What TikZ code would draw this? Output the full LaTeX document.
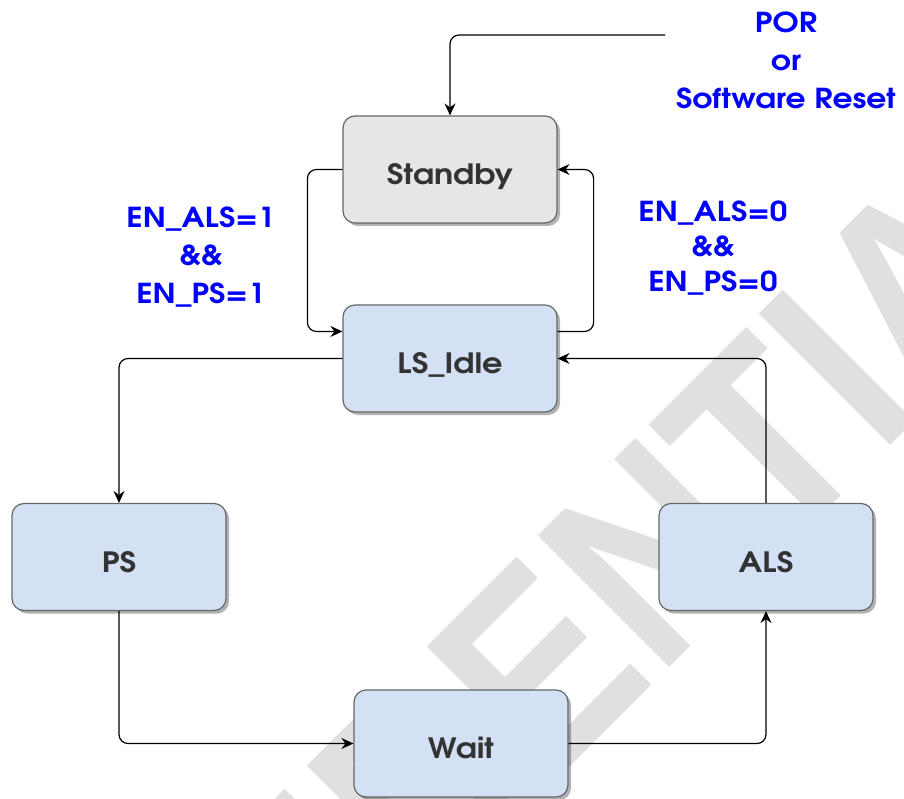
\documentclass[tikz,border=0pt]{standalone}
\usepackage{fontspec}
\usepackage{graphicx}
\setmainfont{texgyreadventor}[Extension=.otf, UprightFont=*-regular, BoldFont=*-bold, FakeStretch=1.14]
\newfontfamily\wmfont{Liberation Sans}
\usetikzlibrary{arrows.meta,shadows,calc}
\definecolor{boxblue}{HTML}{D4E1F5}
\definecolor{boxgray}{HTML}{E6E6E6}
\definecolor{boxline}{HTML}{666666}
\definecolor{txtdark}{HTML}{333333}
\definecolor{lblblue}{HTML}{0000FF}
\definecolor{wmgray}{HTML}{E0E0E0}
\begin{document}
\begin{tikzpicture}[x=1pt,y=-1pt,
  state/.style={draw=boxline, line width=1.2pt, rounded corners=12pt, minimum width=214pt, minimum height=107pt, inner sep=0pt, fill=boxblue, font=\bfseries\fontsize{28}{28}\selectfont, text=txtdark, text height=30.7pt, text depth=0pt, drop shadow={shadow xshift=3pt, shadow yshift=-3pt, opacity=0.3, fill=black}},
  cond/.style={align=center, text=lblblue, inner sep=0pt},
  conn/.style={draw=black, line width=1.2pt, rounded corners=9pt, -{Stealth[length=12pt,width=11pt,inset=4pt]}},
]
\useasboundingbox (0,0) rectangle (904,799);
\fill[white] (0,0) rectangle (904,799);
\begin{scope}
\clip (0,0) rectangle (904,799);
\node[rotate=45, anchor=base west, inner sep=0pt, text=wmgray, font=\wmfont\bfseries\fontsize{270}{270}\selectfont] (wm) at (-89.4,1425.8) {\scalebox{0.87}[1]{CONFIDENTIAL}};
\end{scope}

\node[state, fill=boxgray] (standby) at (450,169.5) {Standby};
\node[state] (idle) at (450,358.5) {LS\_Idle};
\node[state] (ps) at (119,557) {PS};
\node[state] (als) at (766,557) {ALS};
\node[state] (wait) at (461,743.5) {Wait};

\coordinate (por) at (665,35);
\draw[conn] (por) -| (standby.north);
\draw[conn] (standby.west) -- ++(-35,0) |- ($(idle.north west)!0.25!(idle.south west)$);
\draw[conn] ($(idle.north east)!0.25!(idle.south east)$) -- ++(36,0) |- (standby.east);
\draw[conn] (idle.west) -| (ps.north);
\draw[conn] (ps.south) |- (wait.west);
\draw[conn] (wait.east) -| (als.south);
\draw[conn] (als.north) |- (idle.east);

\node[cond, font=\bfseries\fontsize{27.5}{38}\selectfont] (porlbl) at (786,60) {POR\\or\\Software Reset};
\node[cond, font=\bfseries\fontsize{27.5}{38}\selectfont] (c1) at (201,257) {EN\_ALS=1\\\&\&\\EN\_PS=1};
\node[cond, font=\bfseries\fontsize{27.5}{35}\selectfont] (c0) at (713,248) {EN\_ALS=0\\\&\&\\EN\_PS=0};
\end{tikzpicture}
\end{document}
